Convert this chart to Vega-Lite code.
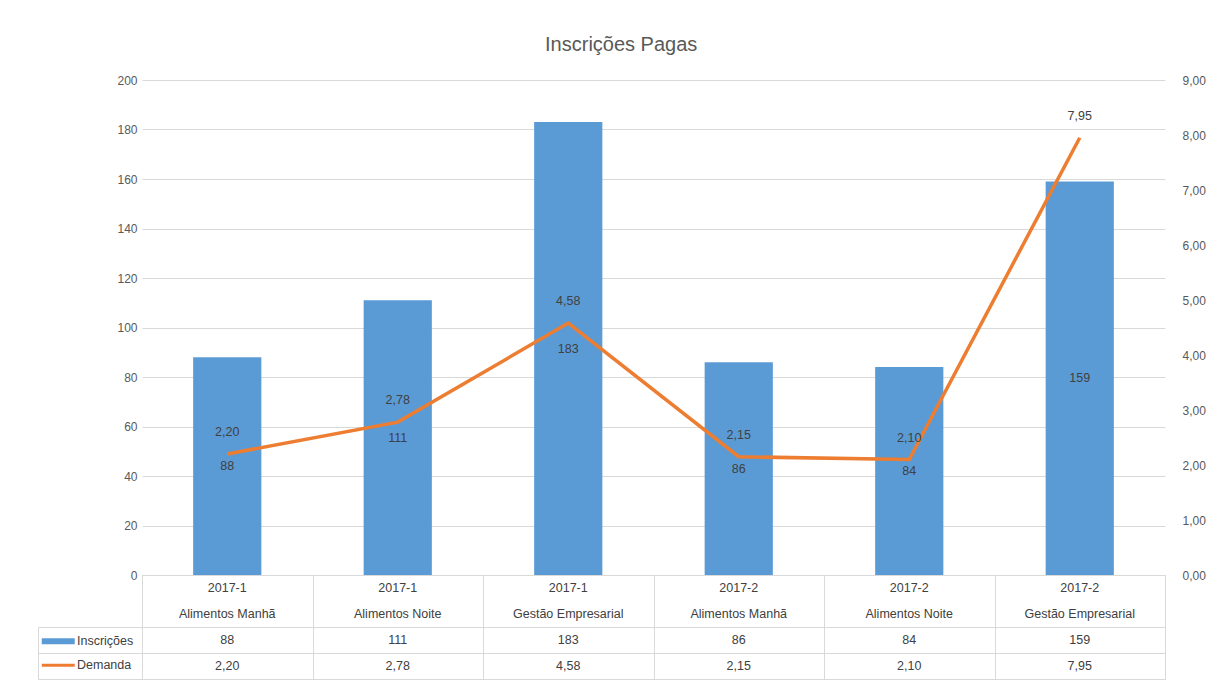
{
  "$schema": "https://vega.github.io/schema/vega-lite/v6.json",
  "padding": {"left": 37, "top": 35, "right": 8, "bottom": 0},
  "background": "white",
  "bounds": "flush",
  "config": {
    "locale": {"number": {"decimal": ",", "thousands": ".", "grouping": [3], "currency": ["R$", ""]}},
    "font": "Liberation Sans",
    "view": {"stroke": null},
    "axis": {"labelFont": "Liberation Sans", "labelFontSize": 12, "labelColor": "#595959", "domain": false, "ticks": false, "grid": false, "title": null},
    "text": {"font": "Liberation Sans", "fontSize": 12, "color": "#404040"}
  },
  "title": {"text": "Inscrições Pagas", "fontSize": 20, "fontWeight": "normal", "color": "#595959", "anchor": "middle", "offset": 19, "font": "Liberation Sans"},
  "datasets": {
    "cursos": [
      {"cat": "2017-1 Alimentos Manhã", "ano": "2017-1", "curso": "Alimentos Manhã", "inscricoes": 88, "demanda": 2.20},
      {"cat": "2017-1 Alimentos Noite", "ano": "2017-1", "curso": "Alimentos Noite", "inscricoes": 111, "demanda": 2.78},
      {"cat": "2017-1 Gestão Empresarial", "ano": "2017-1", "curso": "Gestão Empresarial", "inscricoes": 183, "demanda": 4.58},
      {"cat": "2017-2 Alimentos Manhã", "ano": "2017-2", "curso": "Alimentos Manhã", "inscricoes": 86, "demanda": 2.15},
      {"cat": "2017-2 Alimentos Noite", "ano": "2017-2", "curso": "Alimentos Noite", "inscricoes": 84, "demanda": 2.10},
      {"cat": "2017-2 Gestão Empresarial", "ano": "2017-2", "curso": "Gestão Empresarial", "inscricoes": 159, "demanda": 7.95}
    ]
  },
  "spacing": 0,
  "vconcat": [
    {
      "width": 1023,
      "height": 495,
      "data": {"name": "cursos"},
      "encoding": {
        "x": {"field": "cat", "type": "nominal", "sort": null, "scale": {"paddingInner": 0.6, "paddingOuter": 0.3}, "axis": {"labels": false, "domain": true, "domainColor": "#d9d9d9", "title": null, "minExtent": 0, "maxExtent": 0}}
      },
      "layer": [
        {
          "mark": {"type": "bar"},
          "encoding": {
            "y": {"field": "inscricoes", "type": "quantitative", "scale": {"domain": [0, 200]}, "axis": {"orient": "left", "values": [0, 20, 40, 60, 80, 100, 120, 140, 160, 180, 200], "grid": true, "gridColor": "#d9d9d9", "labelPadding": 5}},
            "color": {"datum": "Inscrições", "type": "nominal", "scale": {"domain": ["Inscrições", "Demanda"], "range": ["#5B9BD5", "#ED7D31"]},
              "legend": {"orient": "none", "legendX": -90, "legendY": 555, "title": null, "symbolType": "stroke", "symbolSize": 1089, "symbolStrokeWidth": 5, "labelFontSize": 12.5, "labelColor": "#404040", "labelOffset": 12.5, "rowPadding": 5, "labelFont": "Liberation Sans",
                "encode": {"symbols": {"update": {"strokeWidth": {"signal": "datum.value === 'Inscrições' ? 6 : 3"}}}}}}
          }
        },
        {
          "mark": {"type": "text", "fontSize": 12.5, "color": "#404040"},
          "encoding": {
            "y": {"field": "inscricoes", "type": "quantitative", "scale": {"domain": [0, 400]}, "axis": null},
            "text": {"field": "inscricoes", "type": "quantitative"}
          }
        },
        {
          "mark": {"type": "line", "strokeWidth": 3.5},
          "encoding": {
            "y": {"field": "demanda", "type": "quantitative", "scale": {"domain": [0, 9]}, "axis": {"orient": "right", "values": [0, 1, 2, 3, 4, 5, 6, 7, 8, 9], "format": ".2f", "labelPadding": 17}},
            "color": {"datum": "Demanda", "type": "nominal"}
          }
        },
        {
          "mark": {"type": "text", "fontSize": 12.5, "color": "#404040", "dy": -22},
          "encoding": {
            "y": {"field": "demanda", "type": "quantitative", "scale": {"domain": [0, 9]}, "axis": null},
            "text": {"field": "demanda", "type": "quantitative", "format": ".2f"}
          }
        }
      ],
      "resolve": {"scale": {"y": "independent"}}
    },
    {
      "width": 1023,
      "height": 52,
      "data": {"name": "cursos"},
      "view": {"stroke": "#d9d9d9"},
      "encoding": {
        "x": {"field": "cat", "type": "nominal", "sort": null, "scale": {"paddingInner": 0, "paddingOuter": 0}, "axis": {"labels": false, "grid": true, "gridColor": "#d9d9d9", "tickBand": "extent", "orient": "top", "title": null, "minExtent": 0, "maxExtent": 0, "offset": 0}}
      },
      "layer": [
        {
          "mark": {"type": "text", "fontSize": 12.5, "color": "#404040"},
          "encoding": {
            "y": {"datum": "ano", "type": "nominal", "scale": {"domain": ["ano", "curso"]}, "axis": null},
            "text": {"field": "ano", "type": "nominal"}
          }
        },
        {
          "mark": {"type": "text", "fontSize": 12.5, "color": "#404040"},
          "encoding": {
            "y": {"datum": "curso", "type": "nominal"},
            "text": {"field": "curso", "type": "nominal"}
          }
        }
      ]
    },
    {
      "width": 1023,
      "height": 52,
      "data": {"name": "cursos"},
      "view": {"stroke": "#d9d9d9"},
      "encoding": {
        "x": {"field": "cat", "type": "nominal", "sort": null, "scale": {"paddingInner": 0, "paddingOuter": 0}, "axis": {"labels": false, "grid": true, "gridColor": "#d9d9d9", "tickBand": "extent", "orient": "top", "title": null, "minExtent": 0, "maxExtent": 0, "offset": 0}}
      },
      "layer": [
        {
          "mark": {"type": "text", "fontSize": 12.5, "color": "#404040"},
          "encoding": {
            "y": {"datum": "Inscrições", "type": "nominal", "scale": {"domain": ["Inscrições", "Demanda"]},
              "axis": {"orient": "left", "offset": 104, "tickBand": "extent", "ticks": true, "tickSize": -104, "tickColor": "#d9d9d9", "domain": true, "domainColor": "#d9d9d9", "labels": false, "grid": true, "gridColor": "#d9d9d9"}},
            "text": {"field": "inscricoes", "type": "quantitative"}
          }
        },
        {
          "mark": {"type": "text", "fontSize": 12.5, "color": "#404040"},
          "encoding": {
            "y": {"datum": "Demanda", "type": "nominal"},
            "text": {"field": "demanda", "type": "quantitative", "format": ".2f"}
          }
        }
      ]
    }
  ]
}
